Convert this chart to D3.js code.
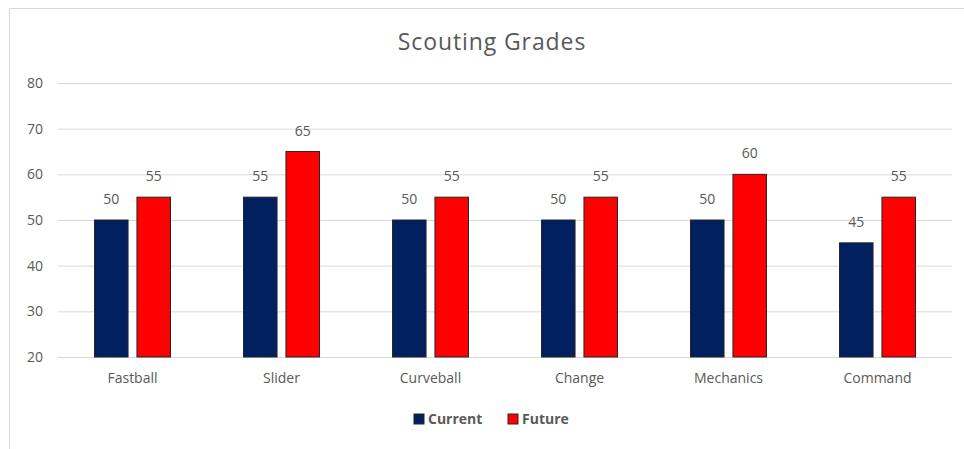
<!DOCTYPE html>
<html>
<head>
<meta charset="utf-8">
<script src="https://cdn.jsdelivr.net/npm/d3@7"></script>
<style>
  body { margin: 0; background: #fff; }
  svg { display: block; }
</style>
</head>
<body>
<div id="chart"></div>
<script>
// data
const categories = ["Fastball", "Slider", "Curveball", "Change", "Mechanics", "Command"];
const seriesNames = ["Current", "Future"];
const current = [50, 55, 50, 50, 50, 45];
const future = [55, 65, 55, 55, 60, 55];
const yTicks = [20, 30, 40, 50, 60, 70, 80];
const colors = ["#002060", "#FF0000"];

const width = 964,
  height = 449,
  marginLeft = 58,
  marginRight = 12,
  plotTop = 83,
  plotBottom = 357,
  font = "'Open Sans', 'Noto Sans', sans-serif",
  textColor = "#595959";

const values = [current, future];

const svg = d3
  .select("#chart")
  .append("svg")
  .attr("width", width)
  .attr("height", height)
  .attr("viewBox", [0, 0, width, height]);

// chart frame (left + top edges visible)
svg
  .append("path")
  .attr("d", `M9.5,${height}V8.5H${width}`)
  .attr("fill", "none")
  .attr("stroke", "#d9d9d9")
  .attr("stroke-width", 1);

// scales
const x0 = d3
  .scaleBand(categories, [marginLeft, width - marginRight])
  .paddingInner(0.49)
  .paddingOuter(0.245);
const x1 = d3
  .scaleBand(d3.range(seriesNames.length), [0, x0.bandwidth()])
  .paddingInner(0.21);
const y = d3.scaleLinear([20, 80], [plotBottom, plotTop]);

// title
svg
  .append("text")
  .attr("x", 492)
  .attr("y", 50)
  .attr("text-anchor", "middle")
  .attr("font-family", font)
  .attr("font-size", 23)
  .attr("letter-spacing", 0.9)
  .attr("fill", textColor)
  .text("Scouting Grades");

// y axis + grid
const yAxis = d3
  .axisLeft(y)
  .tickValues(yTicks)
  .tickSize(-(width - marginRight - marginLeft))
  .tickPadding(15);

svg
  .append("g")
  .attr("transform", `translate(${marginLeft},0)`)
  .call(yAxis)
  .call((g) => g.select(".domain").remove())
  .call((g) =>
    g.selectAll(".tick line").attr("stroke", "#d9d9d9").attr("stroke-width", 1)
  )
  .call((g) =>
    g
      .selectAll(".tick text")
      .attr("font-family", font)
      .attr("font-size", 14)
      .attr("fill", textColor)
  );

// x axis labels
const xAxis = d3.axisBottom(x0).tickSize(0).tickPadding(16);
svg
  .append("g")
  .attr("transform", `translate(0,${plotBottom})`)
  .call(xAxis)
  .call((g) => g.select(".domain").remove())
  .call((g) =>
    g
      .selectAll(".tick text")
      .attr("font-family", font)
      .attr("font-size", 14)
      .attr("fill", textColor)
  );

// bars
const groups = svg
  .append("g")
  .selectAll("g")
  .data(categories)
  .join("g")
  .attr("transform", (d) => `translate(${x0(d)},0)`);

groups
  .selectAll("rect")
  .data((d, i) => values.map((v, s) => ({ s, v: v[i] })))
  .join("rect")
  .attr("x", (d) => x1(d.s))
  .attr("y", (d) => y(d.v))
  .attr("width", x1.bandwidth())
  .attr("height", (d) => y(20) - y(d.v))
  .attr("fill", (d) => colors[d.s])
  .attr("stroke", "#262626")
  .attr("stroke-width", 1);

// data labels
groups
  .selectAll("text")
  .data((d, i) => values.map((v, s) => ({ s, v: v[i] })))
  .join("text")
  .attr("x", (d) => x1(d.s) + x1.bandwidth() / 2)
  .attr("y", (d) => y(d.v) - 16)
  .attr("text-anchor", "middle")
  .attr("font-family", font)
  .attr("font-size", 14)
  .attr("fill", textColor)
  .text((d) => d.v);

// legend
const legendX = [414, 508];
const legend = svg
  .append("g")
  .selectAll("g")
  .data(seriesNames)
  .join("g")
  .attr("transform", (d, i) => `translate(${legendX[i]},414)`);

legend
  .append("rect")
  .attr("width", 10)
  .attr("height", 10)
  .attr("fill", (d, i) => colors[i])
  .attr("stroke", "#262626")
  .attr("stroke-width", 1);

legend
  .append("text")
  .attr("x", 14)
  .attr("y", 10)
  .attr("font-family", font)
  .attr("font-size", 14)
  .attr("font-weight", 700)
  .attr("fill", textColor)
  .text((d) => d);
</script>
</body>
</html>
